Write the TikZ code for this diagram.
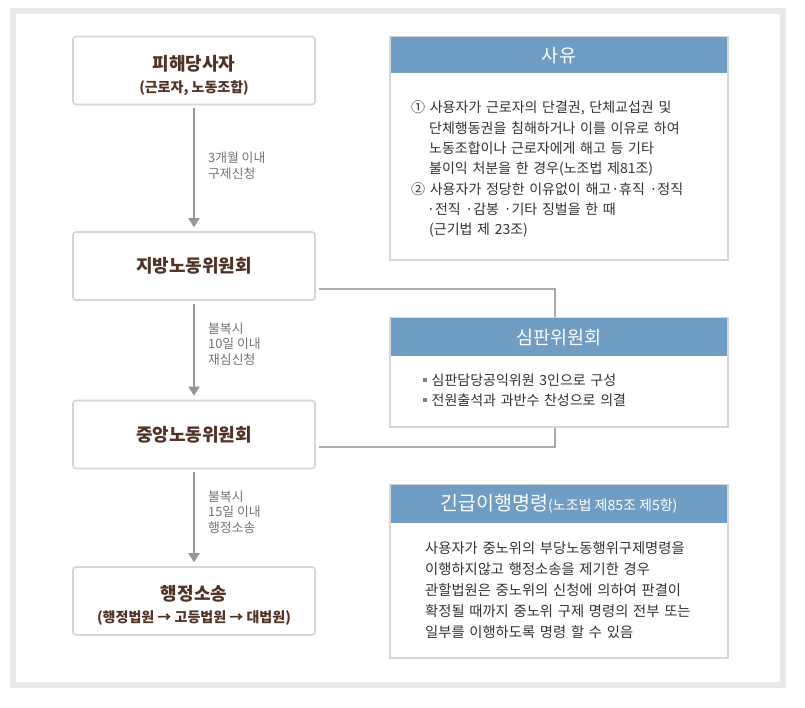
\documentclass[tikz,border=0pt]{standalone}
\usepackage{fontspec}
\setmainfont{Noto Sans CJK KR}
\usetikzlibrary{arrows.meta, positioning}
\definecolor{bandeau}{RGB}{111,157,196}
\definecolor{brun}{RGB}{80,50,36}
\definecolor{gristrait}{RGB}{150,150,150}
\definecolor{griscadre}{RGB}{232,232,232}
\definecolor{grisboite}{RGB}{214,214,214}
\definecolor{grisnote}{RGB}{115,115,115}
\definecolor{texte}{RGB}{50,50,50}
\newcommand\steptitle{\fontsize{18}{22}\selectfont}
\newcommand\stepsub{\fontsize{14}{22}\selectfont}
\tikzset{
    stepbox/.style={draw=grisboite, line width=1.6pt, rounded corners=3pt, fill=white,
        minimum width=242pt, minimum height=68pt, align=center, text=brun,
        font=\bfseries\fontsize{18}{22}\selectfont},
    flowarrow/.style={draw=gristrait, line width=1.8pt, -{Triangle[width=11pt,length=9pt]},
        shorten <=3pt, shorten >=4pt},
    flowlabel/.style={anchor=west, align=left, text=grisnote, inner sep=0pt,
        font=\fontsize{12.8}{15.5}\selectfont},
    link/.style={draw=gristrait!80, line width=1.2pt},
    infobox/.style={draw=grisboite, line width=1.8pt, fill=white, minimum width=338pt},
    infohead/.style={fill=bandeau, text=white, minimum width=336.2pt, minimum height=36pt,
        inner sep=0pt, font=\fontsize{18.5}{20}\selectfont},
    infotext/.style={anchor=base west, text=texte, text width=330pt, inner sep=0pt,
        align=left, font=\fontsize{14}{20.3}\selectfont}
}

\begin{document}
\begin{tikzpicture}[x=1pt, y=-1pt]

    \def\retrait{\hspace*{18pt}}
    \def\puce{\textcolor{gray}{\rule[3.5pt]{3.5pt}{3.5pt}}\hspace{5pt}}

    \useasboundingbox[fill=white] (0,0) rectangle (805,708);

    % cadre exterieur
    \draw[griscadre, line width=6pt] (13,11) rectangle (783,685);

    % etapes de la procedure
    \node[stepbox] (victim) at (194,70.5)
        {\steptitle\rule{0pt}{25pt}피해당사자\\\stepsub (근로자, 노동조합)};
    \node[stepbox] (local) at (194,266) {\steptitle 지방노동위원회};
    \node[stepbox] (central) at (194,434.5) {\steptitle 중앙노동위원회};
    \node[stepbox] (court) at (194,601)
        {\steptitle\rule{0pt}{24pt}행정소송\\\stepsub (행정법원 → 고등법원 → 대법원)};

    % fleches entre les etapes
    \draw[flowarrow] (victim) -- (local);
    \draw[flowarrow] (local) -- (central);
    \draw[flowarrow] (central) -- (court);

    \node[flowlabel] (delayA) at (208,165.5) {3개월 이내\\구제신청};
    \node[flowlabel] (delayB) at (208,344) {불복시\\10일 이내\\재심신청};
    \node[flowlabel] (delayC) at (208,512) {불복시\\15일 이내\\행정소송};

    % encadre : sayu
    \node[infobox, minimum height=223pt] (cause) at (559,148.5) {};
    \node[infohead, anchor=north] (causehead) at ([yshift=-0.9pt]cause.north) {사유};
    \node[infotext] (causetext) at (411,113)
        {① 사용자가 근로자의 단결권, 단체교섭권 및\\
        \retrait 단체행동권을 침해하거나 이를 이유로 하여\\
        \retrait 노동조합이나 근로자에게 해고 등 기타\\
        \retrait 불이익 처분을 한 경우(노조법 제81조)\\
        ② 사용자가 정당한 이유없이 해고·휴직 ·정직\\
        \hspace*{16pt}·전직 ·감봉 ·기타 징벌을 한 때\\
        \retrait (근기법 제 23조)};

    % encadre : commission d'arbitrage
    \node[infobox, minimum height=109pt] (panel) at (559,372.5) {};
    \node[infohead, anchor=north, minimum height=38pt] (panelhead)
        at ([yshift=-0.9pt]panel.north) {심판위원회};
    \node[infotext] (paneltext) at (423,385)
        {\puce 심판담당공익위원 3인으로 구성\\
        \puce 전원출석과 과반수 찬성으로 의결};

    % liens vers la commission
    \draw[link, shorten <=3pt] ([yshift=-23pt]local.east) -| ([xshift=-4pt]panel.north);
    \draw[link, shorten <=3pt] ([yshift=-12.5pt]central.east) -| ([xshift=-4pt]panel.south);

    % encadre : ordre d'execution
    \node[infobox, minimum height=173pt] (order) at (559,571.5) {};
    \node[infohead, anchor=north, minimum height=38pt] (orderhead)
        at ([yshift=-0.9pt]order.north)
        {\fontsize{19.5}{20}\selectfont 긴급이행명령\fontsize{14}{15}\selectfont (노조법 제85조 제5항)};
    \node[infotext, font=\fontsize{14.3}{21}\selectfont] (ordertext) at (425,553)
        {사용자가 중노위의 부당노동행위구제명령을\\
        이행하지않고 행정소송을 제기한 경우\\
        관할법원은 중노위의 신청에 의하여 판결이\\
        확정될 때까지 중노위 구제 명령의 전부 또는\\
        일부를 이행하도록 명령 할 수 있음};

\end{tikzpicture}
\end{document}
